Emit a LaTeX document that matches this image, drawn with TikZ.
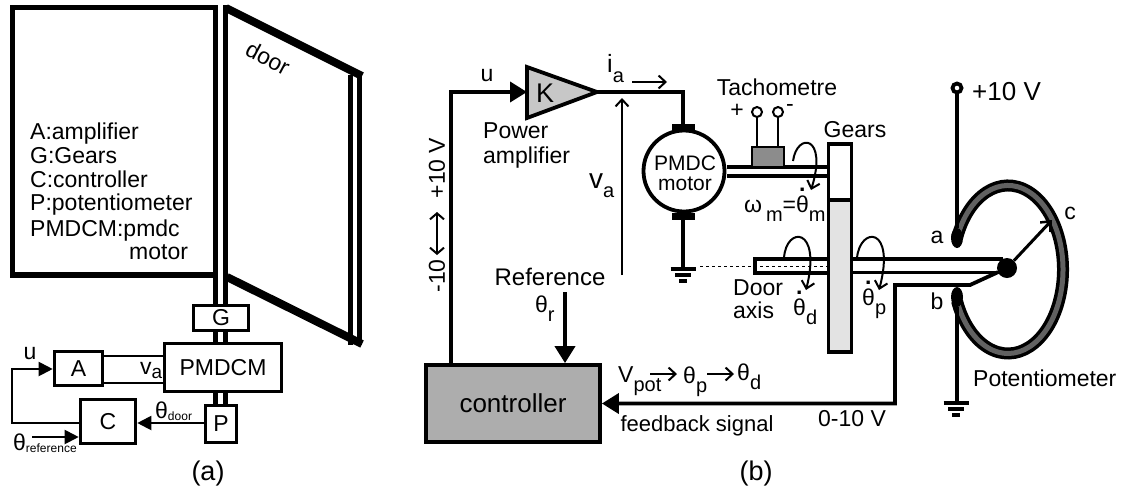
\documentclass[tikz,border=0pt]{standalone}
\usepackage{fontspec}
\setmainfont{Liberation Sans}
\usetikzlibrary{arrows.meta,shapes.geometric}
\newcommand{\fsz}[1]{\fontsize{#1}{#1}\selectfont}
\newcommand{\subtxt}[2][20]{\raisebox{-.42em}{\fsz{#1}#2}}
\newcommand{\subup}[2][12]{\raisebox{-.1em}{\fsz{#1}#2}}
\newcommand{\dotth}{\leavevmode\rlap{\hspace{.13em}\raisebox{.9em}{\textbf{.}}}θ}
\tikzset{
  txt/.style={inner sep=0pt,font=\fsz{23}},
  boxa/.style={draw,line width=3.6pt,fill=white,inner sep=0pt,font=\fsz{23}},
  wire/.style={line width=3.8pt},
  thinwire/.style={line width=2pt},
  shaftline/.style={line width=3.5pt},
  solidtip/.style={-{Triangle[length=14pt,width=14pt]}},
  bigtip/.style={-{Triangle[length=17pt,width=20pt]}},
  opentip/.style={-{Straight Barb[length=7pt,width=13pt,line width=2pt]}},
}
\begin{document}
\begin{tikzpicture}[line cap=butt,line join=miter,x=1pt,y=-1pt]
\useasboundingbox (0,0) rectangle (1121,491);

% panel a: frame and door
\draw[line width=5.5pt] (213,7.5) -- (12.5,7.5) -- (12.5,275) -- (213,275);
\foreach \x in {215.5,225.5}
{
    \draw[line width=5pt] (\x,5) -- (\x,304);
    \draw[line width=5pt] (\x,332) -- (\x,342);
    \draw[line width=5pt] (\x,393) -- (\x,404);
};
\foreach \x in {350.5,359.5}
    \draw[line width=5pt] (\x,75) -- (\x,345);
\draw[line width=8pt] (226,8) -- (362,76);
\draw[line width=8pt] (227,277) -- (362,344);
\node[txt,rotate=-28] (doorlabel) at (268,58) {door};

\node[txt,anchor=base west] (keyA) at (30,139) {A:amplifier};
\node[txt,anchor=base west] (keyG) at (30,163) {G:Gears};
\node[txt,anchor=base west] (keyC) at (30,187) {C:controller};
\node[txt,anchor=base west] (keyP) at (30,210) {P:potentiometer};
\node[txt,anchor=base west] (keyM) at (30,236) {PMDCM:pmdc};
\node[txt,anchor=base west] (keyM2) at (129,259) {motor};

% panel a: blocks
\node[boxa,minimum width=55pt,minimum height=25pt] (G) at (221,318) {G};
\node[boxa,minimum width=117pt,minimum height=48pt] (PMDCM) at (223,367.5) {PMDCM};
\node[boxa,minimum width=48pt,minimum height=34pt] (A) at (78.5,368.5) {A};
\node[boxa,minimum width=55pt,minimum height=44pt] (C) at (108,421.5) {C};
\node[boxa,minimum width=31pt,minimum height=37pt] (P) at (221,424) {P};

\coordinate (Aup) at (A.east |- 0,356);
\coordinate (Adown) at (A.east |- 0,383);
\draw[thinwire] (Aup) -- (Aup -| PMDCM.west);
\draw[thinwire] (Adown) -- (Adown -| PMDCM.west);
\coordinate (uleft) at (12,369);
\draw[thinwire,solidtip] (C.west |- 0,423) -| (uleft) -- (A.west |- uleft);
\draw[thinwire,solidtip] (P.west |- 0,423) -- (C.east |- 0,423);
\coordinate (refstart) at (32,437);
\draw[thinwire,solidtip] (refstart) -- (refstart -| C.west);

\node[txt] (ulabelA) at (30,354) {u};
\node[txt,anchor=base west] (vaA) at (140,374) {v\subup[19]{\raisebox{-.1em}{a}}};
\node[txt,anchor=base west] (thetadoor) at (155,418) {θ\subup{door}};
\node[txt,anchor=base west] (thetaref) at (13,450) {θ\subup{reference}};
\node[txt,font=\fsz{27}] (capa) at (208,474) {(a)};

% panel b: amplifier and motor
\node[draw,wire,fill=white,circle,minimum size=81pt,inner sep=0pt] (motor) at (684,171) {};
\node[txt,font=\fsz{21}] (motortop) at (685,163) {PMDC};
\node[txt,font=\fsz{21}] (motorlow) at (685,184) {motor};
\fill (672,124) rectangle (695,131);
\fill (672,213) rectangle (695,220);

\coordinate (K1) at (527,67);
\coordinate (K2) at (527,118);
\coordinate (K3) at (597,92);
\draw[wire,fill=black!22] (K1) -- (K2) -- (K3) -- cycle;
\node[txt,font=\fsz{27}] (K) at (545,93) {K};
\coordinate (wirecorner) at (683,92);
\draw[wire] (K3) -- (wirecorner) -- (wirecorner |- motor.north);
\draw[wire] (683,218) -- (683,269);

\node[txt] (ulabelB) at (487,76) {u};
\node[txt,anchor=base west] (pow1) at (483,138) {Power};
\node[txt,anchor=base west] (pow2) at (483,163) {amplifier};
\node[txt,anchor=base west,font=\fsz{25}] (ia) at (607,72) {i\subtxt{a}};
\coordinate (iastart) at (632,82);
\draw[thinwire,opentip] (iastart) -- ++(35,0);
\coordinate (vastart) at (622,275);
\draw[thinwire,opentip] (vastart) -- (622,98);
\node[txt,anchor=base west] (va) at (589,188) {{\fsz{28}v}\subtxt{a}};

% tachometre
\draw[shaftline] (727,167) -- (827,167);
\draw[shaftline] (727,176) -- (827,176);
\node[draw,line width=2pt,fill=black!45,minimum width=32pt,minimum height=20pt,inner sep=0pt] (tacho) at (768,157) {};
\foreach \v/\n in {757/plus,778/minus}
{
    \node[draw,line width=2pt,fill=white,circle,minimum size=10pt,inner sep=0pt] (term\n) at (\v,112) {};
    \draw[line width=2pt] (term\n) -- (\v,147);
};
\node[txt] (tachotxt) at (777,87) {Tachometre};
\node[txt] (plussign) at (737,111) {+};
\node[txt] (minussign) at (790,108) {-};

% gears
\node[draw,wire,fill=white,minimum width=23pt,minimum height=56pt,inner sep=0pt] (gearup) at (840,172) {};
\node[draw,wire,fill=black!11,minimum width=23pt,minimum height=152pt,inner sep=0pt] (gearlow) at (840,276) {};
\node[txt] (gearstxt) at (855,130) {Gears};

% door axis and shaft
\draw[shaftline] (827,259) -- (755,259) -- (755,273) -- (827,273);
\draw[dashed,line width=.8pt] (700,266) -- (827,266);
\draw[shaftline] (853,259) -- (1003,259);
\draw[shaftline] (853,272.5) -- (1000,272.5);
\node[txt,anchor=base west] (door1) at (733,295) {Door};
\node[txt,anchor=base west] (door2) at (733,318) {axis};

\draw[thinwire,opentip] (793,161) .. controls (797,132) and (828,135) .. (811,190);
\draw[thinwire,opentip] (784,258) .. controls (786,226) and (822,226) .. (806,290);
\draw[thinwire,opentip] (857,258) .. controls (860,226) and (896,226) .. (879,290);
\node[txt,anchor=base west] (omega) at (744,212) {ω\,\subtxt{m}=\dotth\subtxt{m}};
\node[txt,anchor=base west] (thetad) at (793,315) {\dotth\subtxt{d}};
\node[txt,anchor=base west] (thetap) at (862,305) {\dotth\subtxt{p}};

% controller
\node[draw,wire,fill=black!32,minimum width=174pt,minimum height=77pt,inner sep=0pt,font=\fsz{26}] (controller) at (513,403.5) {controller};
\node[txt,font=\fsz{24}] (reftxt) at (550,277) {Reference};
\node[txt,anchor=base west] (thetar) at (535,312) {θ\subtxt{r}};
\coordinate (refin) at (565,292);
\draw[wire,bigtip] (refin) -- (refin |- controller.north);
\coordinate (ctrlup) at (451,92);
\draw[wire,bigtip] (ctrlup |- controller.north) -- (ctrlup) -- (K1 |- ctrlup);

\node[txt,rotate=90] (vplus) at (437,168) {+10 V};
\node[txt,rotate=90] (vminus) at (437,276) {-10};
\coordinate (vtop) at (437,212);
\coordinate (vlow) at (437,255);
\draw[thinwire,{Straight Barb[length=6pt,width=14pt,line width=2pt]}-{Straight Barb[length=6pt,width=14pt,line width=2pt]}] (vtop) -- (vlow);

% potentiometer
\draw[line width=12pt] (957,238) arc[start angle=158,end angle=-158,x radius=55pt,y radius=84pt];
\draw[line width=5pt,color=black!62] (957,238) arc[start angle=158,end angle=-158,x radius=55pt,y radius=84pt];
\node[fill=black,ellipse,minimum width=12pt,minimum height=20pt,inner sep=0pt] (pa) at (957,238) {};
\node[fill=black,ellipse,minimum width=12pt,minimum height=20pt,inner sep=0pt] (pb) at (957,297) {};
\node[fill=black,circle,minimum size=20pt,inner sep=0pt] (pivot) at (1007,268) {};
\node[draw,wire,fill=white,circle,minimum size=9pt,inner sep=0pt] (supply) at (957,88) {};
\draw[wire] (supply) -- (pa);
\coordinate (gndb) at (957,403);
\draw[wire] (pb) -- (gndb);
\coordinate (ctip) at (1052,220);
\draw[line width=3pt,-{Straight Barb[length=8pt,width=14pt,line width=2.5pt]}] (pivot) -- (ctip);
\coordinate (fbone) at (970,285);
\coordinate (fbtwo) at (895,285);
\draw[wire,bigtip] (pivot) -- (fbone) -- (fbtwo) |- (controller.east);

\foreach \gx/\gy in {683/269,956/403}
{
    \draw[wire] (\gx-12.5,\gy) -- (\gx+12.5,\gy);
    \draw[wire] (\gx-8,\gy+6) -- (\gx+8,\gy+6);
    \draw[wire] (\gx-4,\gy+12) -- (\gx+4,\gy+12);
};

\node[txt,font=\fsz{26},anchor=west] (plusten) at (972,92) {+10 V};
\node[txt] (pointa) at (937,237) {a};
\node[txt] (pointb) at (937,301) {b};
\node[txt] (pointc) at (1070,213) {c};
\node[txt,anchor=west] (pottxt) at (973,378) {Potentiometer};

% feedback labels
\node[txt,anchor=base west] (vpot) at (618,382) {V\subtxt{pot}};
\coordinate (arone) at (650,374);
\draw[thinwire,opentip] (arone) -- ++(27,0);
\node[txt,anchor=base west] (thp) at (683,383) {θ\subtxt{p}};
\coordinate (artwo) at (707,374);
\draw[thinwire,opentip] (artwo) -- ++(27,0);
\node[txt,anchor=base west] (thd) at (737,380) {θ\subtxt{d}};
\node[txt,font=\fsz{22}] (fbtxt) at (697,426) {feedback signal};
\node[txt] (rangetxt) at (852,419) {0-10 V};
\node[txt,font=\fsz{27}] (capb) at (756,474) {(b)};
\end{tikzpicture}
\end{document}
